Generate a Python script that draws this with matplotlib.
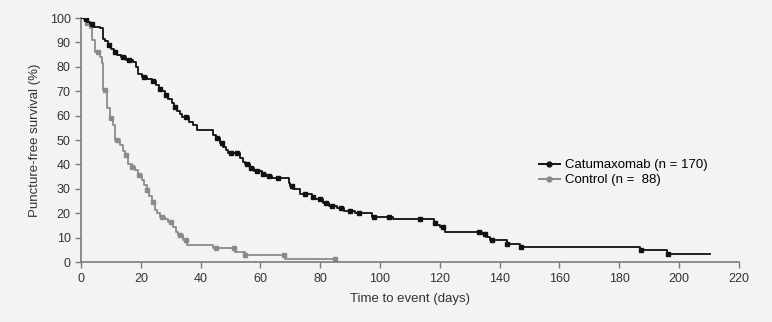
import numpy as np
import matplotlib
matplotlib.use("Agg")
import matplotlib.pyplot as plt

plt.rcParams['font.family'] = ['Liberation Sans', 'DejaVu Sans']

# Catumaxomab (n = 170) Kaplan-Meier step points
cat_t = [0, 1, 2, 3, 4, 6.5, 7.2, 8, 9, 10, 11, 12, 13.5, 15, 17.5, 18.5, 19.2, 20.5,
         22, 23.6, 25, 26, 27, 28, 29, 30.3, 31, 32, 33, 33.7, 36, 37.5, 38.7, 44.2, 45,
         46.5, 47.6, 48.5, 49.3, 53, 54, 55, 56.5, 58, 60.4, 62, 63.8, 69.4, 69.9, 71,
         73.2, 77.2, 78, 81, 83, 85.5, 88, 91.6, 97.2, 104.5, 118.2, 119, 120, 121.7,
         134, 135.5, 136.8, 142.4, 146.8, 187, 195.9, 210.4]
cat_s = [100, 99.4, 98.2, 97.6, 96.5, 95.8, 91.5, 90.5, 89, 87.5, 86, 85, 84, 83, 82, 80,
         77, 76, 75, 74, 72.5, 71, 70, 68.5, 67, 65, 63.5, 62, 60.5, 59.5, 57.5, 56, 54.1,
         52, 50.7, 49, 47.3, 46, 44.5, 42.5, 41, 40, 38.4, 37.5, 36.3, 35.3, 34.3, 32.5,
         31, 30, 28.1, 26.8, 25.8, 24.2, 23, 22, 21, 20, 18.6, 17.6, 16, 15, 14.2, 12.2,
         11.5, 10.4, 9, 7.4, 6.3, 4.9, 3.3, 3.3]
cat_cens = [1.5, 3.5, 9.5, 11.5, 14, 16, 21, 24, 26.5, 28.5, 31.5, 35, 45.5, 47, 50, 52,
            55.5, 57, 59, 61, 63, 66, 70.5, 75, 77.5, 80, 82, 84, 87, 90, 93, 98, 103,
            113.4, 118.5, 121, 133, 135, 137.5, 142.6, 147, 187.2, 196.2]

# Control (n = 88)
ctl_t = [0, 1.5, 3, 3.6, 4.7, 6.4, 6.9, 7.5, 8.6, 9.7, 10.8, 11.4, 13, 14, 14.7, 15.8, 17,
         18, 19, 20.3, 21, 21.9, 22.7, 23.6, 24.7, 25.5, 26.4, 28, 29.2, 30.9, 31.8, 32.5,
         34.2, 35.4, 44.2, 51.5, 54.8, 68.2, 85]
ctl_s = [100, 98, 95.8, 91, 86.2, 84.2, 81.4, 70.5, 63, 59, 56.1, 50, 48, 45.5, 43.9, 40.4,
         39, 37.7, 35.5, 33.6, 31.5, 29.5, 27, 24.7, 21.3, 20, 18.6, 17.5, 16.5, 14.5, 12.5,
         11.1, 9, 7, 5.6, 4.2, 2.9, 1.1, 1.1]
ctl_cens = [2, 5.5, 8, 10, 12, 15, 17, 19.5, 22, 24, 27, 30, 33, 35, 45, 51, 55, 68, 85]

x_ticks = list(range(0, 221, 20))
y_ticks = list(range(0, 101, 10))

bg = '#f3f3f3'
fig = plt.figure(figsize=(7.72, 3.22), dpi=100, facecolor=bg)
ax = fig.add_axes([0.105, 0.186, 0.852, 0.758], facecolor=bg)

def step_val(t_arr, s_arr, t):
    idx = np.searchsorted(np.asarray(t_arr), t, side='right') - 1
    return np.asarray(s_arr)[idx]

black = '#111111'
grey = '#8a8a8a'

ax.step(cat_t, cat_s, where='post', color=black, lw=1.3, zorder=3)
ax.plot(cat_cens, step_val(cat_t, cat_s, cat_cens), ls='none', marker='s', ms=2.6,
        color=black, zorder=4)
ax.step(ctl_t, ctl_s, where='post', color=grey, lw=1.3, zorder=2)
ax.plot(ctl_cens, step_val(ctl_t, ctl_s, ctl_cens), ls='none', marker='s', ms=2.6,
        color=grey, zorder=2)

# legend proxies
ax.plot([], [], color=black, lw=1.4, marker='o', ms=3.5, label='Catumaxomab (n = 170)')
ax.plot([], [], color=grey, lw=1.4, marker='o', ms=3.5, label='Control (n =  88)')
leg = ax.legend(loc='upper left', bbox_to_anchor=(0.688, 0.443), frameon=False,
                fontsize=9.5, handlelength=1.6, handletextpad=0.4, labelspacing=0.2,
                borderaxespad=0)

ax.set_xlim(0, 220)
ax.set_ylim(0, 100)
ax.set_xticks(x_ticks)
ax.set_yticks(y_ticks)
for s in ['top', 'right']:
    ax.spines[s].set_visible(False)
for s in ['left', 'bottom']:
    ax.spines[s].set_color('#7a7a7a')
    ax.spines[s].set_linewidth(1.2)
ax.tick_params(direction='out', length=4, width=1, color='#7a7a7a', labelsize=9,
               labelcolor='#333333')
ax.set_xlabel('Time to event (days)', fontsize=9.5, color='#333333', labelpad=6)
ax.set_ylabel('Puncture-free survival (%)', fontsize=9.5, color='#333333', labelpad=6)

fig.savefig('out.png', dpi=100, facecolor=bg)
